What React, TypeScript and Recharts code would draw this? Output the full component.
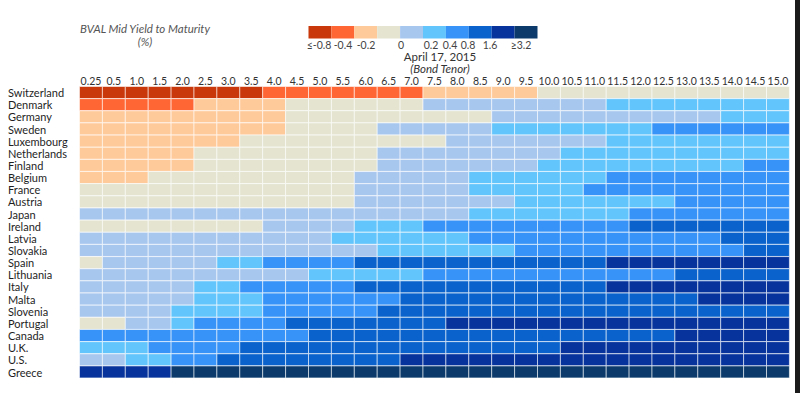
import React from 'react';
import { BarChart, Bar, XAxis, YAxis, Cell } from 'recharts';

const tenors = [
  '0.25', '0.5', '1.0', '1.5', '2.0', '2.5', '3.0', '3.5', '4.0', '4.5', '5.0', '5.5', '6.0', '6.5', '7.0', '7.5',
  '8.0', '8.5', '9.0', '9.5', '10.0', '10.5', '11.0', '11.5', '12.0', '12.5', '13.0', '13.5', '14.0', '14.5', '15.0',
];

const countries = [
  'Switzerland', 'Denmark', 'Germany', 'Sweden', 'Luxembourg', 'Netherlands', 'Finland', 'Belgium',
  'France', 'Austria', 'Japan', 'Ireland', 'Latvia', 'Slovakia', 'Spain', 'Lithuania',
  'Italy', 'Malta', 'Slovenia', 'Portugal', 'Canada', 'U.K.', 'U.S.', 'Greece',
];

// one digit per tenor = index of the yield bucket in the legend
const buckets = [
  '0000000011111112222233333333333',
  '1111122223333334444444455555555',
  '2222222223333333334444444444555',
  '2222222223333444445555555666666',
  '2222222333333333444444455555555',
  '2222233333333444444445555555555',
  '2222233333333444444455555555566',
  '2223333333334444455555566666666',
  '3333333333334444455555666666666',
  '3333333333334444444555555566666',
  '4444444444444444455555556666666',
  '3333333344445556666666667777777',
  '4444444444455555566666666666777',
  '4444444444444555555666666666677',
  '3444445566667777777777788888888',
  '4444444444555556666666666677777',
  '4444455666667777777777788888888',
  '4444455566666677777777777778888',
  '4444555566666777777777777777777',
  '3344566667777777888888888888888',
  '6666666666777777777777777788888',
  '5556666777777777777778888888888',
  '4455667777777788888888888888888',
  '8888999999999999999999999999999',
];

const legendLabels = ['≤-0.8', '-0.4', '-0.2', '0', '0.2', '0.4', '0.8', '1.6', '≥3.2'];
const legendLabelX = [319, 343, 366, 401, 431, 450, 468, 490, 521];

const colors = [
  '#C9380A', '#FF6633', '#FFCA99', '#E4E4D0', '#A8C7EF',
  '#62C5FC', '#3793F7', '#0A63CC', '#07349C', '#0B3A6B',
];

const FONT = 'Lato, "Noto Sans", sans-serif';

const data = countries.map((country) => {
  const row: any = { country };
  tenors.forEach((_, c) => {
    row['t' + c] = 1;
  });
  return row;
});

const TenorTick = ({ x, payload }: any) => (
  <text x={x} y={81} textAnchor="middle" dominantBaseline="central" fontSize={10.5} fill="#333" fontFamily={FONT}>
    {tenors[Math.floor(payload.value)]}
  </text>
);

const CountryTick = ({ y, payload }: any) => (
  <text x={8} y={y} dominantBaseline="central" fontSize={11} fill="#1e1e1e" fontFamily={FONT}>
    {payload.value}
  </text>
);

export default function App() {
  return (
    <div style={{ position: 'absolute', left: 0, top: 0, width: 800, height: 393, background: '#fff', fontFamily: FONT }}>
      <BarChart
        width={800}
        height={393}
        data={data}
        layout="vertical"
        barCategoryGap={0}
        barGap={0}
        margin={{ top: 66.5, right: 10.6, bottom: 14.9, left: 4.5 }}
      >
        <XAxis
          type="number"
          orientation="top"
          domain={[0, tenors.length]}
          ticks={tenors.map((_, i) => i + 0.5)}
          interval={0}
          axisLine={false}
          tickLine={false}
          height={20}
          tick={<TenorTick />}
        />
        <YAxis
          type="category"
          dataKey="country"
          width={75}
          interval={0}
          axisLine={false}
          tickLine={false}
          tick={<CountryTick />}
        />
        {tenors.map((_, c) => (
          <Bar
            key={c}
            dataKey={'t' + c}
            stackId="grid"
            isAnimationActive={false}
            stroke="rgba(255,255,255,0.55)"
            strokeWidth={1}
          >
            {countries.map((_, r) => (
              <Cell key={r} fill={colors[Number(buckets[r][c])]} />
            ))}
          </Bar>
        ))}
      </BarChart>

      <svg width={800} height={393} style={{ position: 'absolute', left: 0, top: 0, pointerEvents: 'none' }}>
        <text x={145} y={33} textAnchor="middle" fontSize={11.5} fontStyle="italic" fill="#555" fontFamily={FONT}>
          BVAL Mid Yield to Maturity
        </text>
        <text x={145} y={46} textAnchor="middle" fontSize={11.5} fontStyle="italic" fill="#555" fontFamily={FONT}>
          (%)
        </text>
        {colors.map((col, i) => (
          <rect key={i} x={308.5 + i * 22.9} y={26} width={22.9} height={12.5} fill={col} />
        ))}
        {legendLabels.map((l, i) => (
          <text key={l} x={legendLabelX[i]} y={49} textAnchor="middle" fontSize={10.5} fill="#444" fontFamily={FONT}>
            {l}
          </text>
        ))}
        <text x={440} y={61} textAnchor="middle" fontSize={11.5} fill="#333" fontFamily={FONT}>
          April 17, 2015
        </text>
        <text x={440} y={73} textAnchor="middle" fontSize={11.5} fontStyle="italic" fill="#333" fontFamily={FONT}>
          (Bond Tenor)
        </text>
      </svg>
      <div style={{ position: 'absolute', left: 795, top: 0, width: 5, height: 393, background: '#1b1b1b' }} />
    </div>
  );
}
